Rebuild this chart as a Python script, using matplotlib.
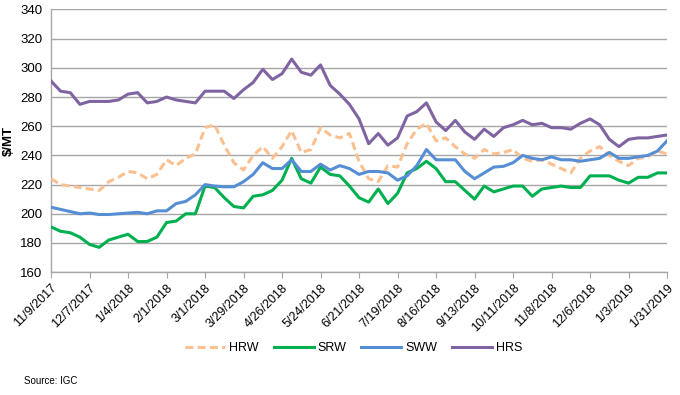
import pandas as pd
import matplotlib
matplotlib.use('Agg')
import matplotlib.pyplot as plt

plt.rcParams['font.family'] = ['Liberation Sans', 'DejaVu Sans']

# ── Data (weekly readings, $/MT) ────────────────────────────────
dates = pd.date_range('2017-11-09', '2019-01-31', freq='7D')

hrw = [224, 220, 219, 218, 217, 216, 222, 225, 229, 228,
       224, 227, 237, 233, 238, 241, 259, 261, 247, 235,
       230, 240, 246, 238, 246, 257, 242, 244, 259, 254,
       252, 255, 236, 224, 222, 233, 232, 248, 258, 262,
       250, 252, 246, 241, 238, 244, 241, 242, 244, 238,
       236, 237, 234, 231, 228, 238, 243, 246, 240, 236,
       233, 238, 239, 243, 241]
srw = [191, 188, 187, 184, 179, 177, 182, 184, 186, 181,
       181, 184, 194, 195, 200, 200, 219, 218, 211, 205,
       204, 212, 213, 216, 223, 238, 224, 221, 232, 227,
       226, 219, 211, 208, 217, 207, 214, 228, 231, 236,
       231, 222, 222, 216, 210, 219, 215, 217, 219, 219,
       212, 217, 218, 219, 218, 218, 226, 226, 226, 223,
       221, 225, 225, 228, 228]
sww = [204.5, 203, 201.5, 200, 200.5, 199.5, 199.5, 200, 200.5, 201,
       200, 202, 202, 207, 208.5, 213, 220, 219, 218.5, 218.5,
       222, 227, 235, 231, 231, 237, 229, 229, 234, 230,
       233, 231, 227, 229, 229, 228, 223, 226, 233, 244,
       237, 237, 237, 229, 224, 228, 232, 232.5, 235, 240,
       238, 237, 239, 237, 237, 236, 237, 238, 242, 238,
       238, 239, 240, 243, 250]
hrs = [291, 284, 283, 275, 277, 277, 277, 278, 282, 283,
       276, 277, 280, 278, 277, 276, 284, 284, 284, 279,
       285, 290, 299, 292, 296, 306, 297, 295, 302, 288,
       282, 275, 265, 248, 255, 247, 252, 267, 270, 276,
       263, 257, 264, 256, 251, 258, 253, 259, 261, 264,
       261, 262, 259, 259, 258, 262, 265, 261, 251, 246,
       251, 252, 252, 253, 254]

tick_dates = pd.date_range('2017-11-09', '2019-01-31', freq='28D')
tick_labels = [f'{d.month}/{d.day}/{d.year}' for d in tick_dates]

GRID = '#A6A6A6'
LW = 2.2

fig = plt.figure(figsize=(6.8, 3.95), dpi=100)
ax = fig.add_axes([0.075, 0.311, 0.906, 0.665])

ax.plot(dates, hrw, color='#FAC090', lw=LW, ls=(0, (2.6, 1.4)), label='HRW', zorder=3)
ax.plot(dates, srw, color='#00B050', lw=LW, label='SRW', zorder=3)
ax.plot(dates, sww, color='#558ED5', lw=LW, label='SWW', zorder=4)
ax.plot(dates, hrs, color='#8064A2', lw=LW, label='HRS', zorder=4)

ax.set_ylim(160, 340)
ax.set_yticks(range(160, 341, 20))
ax.set_xlim(tick_dates[0], tick_dates[-1])
ax.set_xticks(tick_dates)
ax.set_xticklabels(tick_labels, rotation=45, ha='right', rotation_mode='anchor')
ax.tick_params(axis='x', length=4, color=GRID, labelsize=9, pad=3)
ax.tick_params(axis='y', length=0, labelsize=9.5, pad=6)

ax.grid(axis='y', color=GRID, lw=1)
ax.set_axisbelow(True)
for side in ['top', 'right']:
    ax.spines[side].set_visible(False)
for side in ['left', 'bottom']:
    ax.spines[side].set_color(GRID)
    ax.spines[side].set_linewidth(1)

ax.set_ylabel(r'\$/MT', fontsize=9.5, fontweight='bold', labelpad=4)

fig.legend(loc='center', bbox_to_anchor=(0.52, 0.118), ncol=4, frameon=False,
           fontsize=9, handlelength=3.2, columnspacing=1.2, handletextpad=0.3)
fig.text(0.035, 0.028, 'Source: IGC', fontsize=7)

fig.savefig('out.png', dpi=100)
